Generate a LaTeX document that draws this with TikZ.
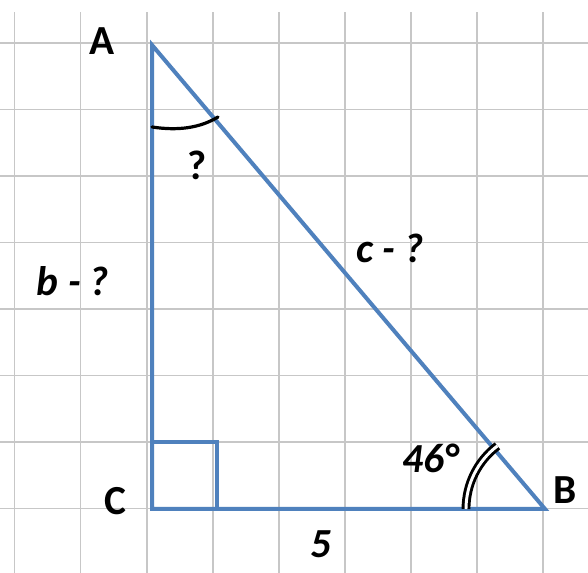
\documentclass[tikz,border=0pt]{standalone}
\usepackage{fontspec}
\setmainfont{Carlito}
\begin{document}
\begin{tikzpicture}[x=0.75pt,y=0.75pt,
  gridline/.style={draw=black!22,line width=1.3pt},
  side/.style={draw={rgb,255:red,79;green,129;blue,189},line width=3pt,line join=miter},
  anglemark/.style={draw=black,line width=2.4pt,line cap=round},
  lbl/.style={font=\fontsize{31}{36}\selectfont\bfseries,inner sep=0pt},
  ilbl/.style={font=\fontsize{31}{36}\selectfont\bfseries\itshape,inner sep=0pt}]
\useasboundingbox[fill=white] (0,0) rectangle (588,573);
% grid
\foreach \k in {0,...,8}{
  \draw[gridline] ({14.5+66.1*\k},0) -- ({14.5+66.1*\k},561);
}
\foreach \k in {0,...,7}{
  \draw[gridline] (0,{530-66.5*\k}) -- (588,{530-66.5*\k});
}
% vertices
\coordinate (A) at (152,528);
\coordinate (C) at (152,64);
\coordinate (B) at (545,64);
\coordinate (R1) at (217,64);
\coordinate (R2) at (217,131);
\coordinate (R3) at (152,131);
% right angle square
\draw[side] (R1) -- (R2) -- (R3);
% triangle
\draw[side] (A) -- (C) -- (B) -- cycle;
% angle at A
\coordinate (a1) at (152,446);
\coordinate (a2) at (218,456);
\draw[anglemark] (a1) .. controls (178,442) and (200,445) .. (a2);
% double angle mark at B
\draw[draw=black,line width=2.2pt,double=white,double distance=2.2pt]
  ([shift={(180:79)}]B) arc[start angle=180,end angle=127,radius=59.25pt];
% labels
\node[lbl] (lA) at (102,532) {A};
\node[lbl] (lB) at (565,83) {B};
\node[lbl] (lC) at (115,72) {C};
\node[lbl] (lq) at (197,408) {?};
\node[ilbl] (lb) at (73,292) {b - ?};
\node[ilbl] (lc) at (390,325) {c - ?};
\node[ilbl] (lang) at (431,115) {46°};
\node[ilbl] (l5) at (321,29) {5};
\end{tikzpicture}
\end{document}
